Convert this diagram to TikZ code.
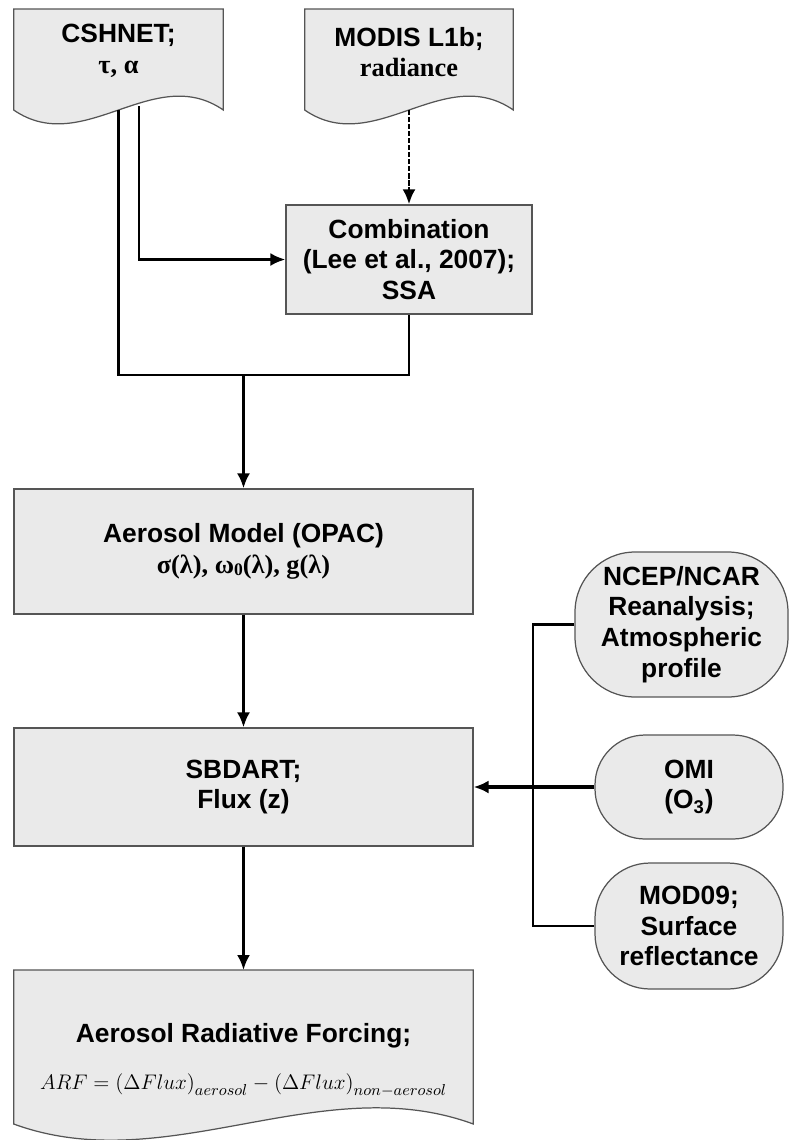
\documentclass[tikz,border=0pt]{standalone}
\usepackage{fontspec}
\setmainfont{Liberation Sans}
\newfontfamily\timesbf{Liberation Serif}
\usepackage{tikz}
\usetikzlibrary{arrows.meta,positioning,calc,backgrounds}
\definecolor{boxgray}{RGB}{234,234,234}
\definecolor{edgegray}{RGB}{85,85,85}
\newcommand{\boxfont}{\fontsize{15}{17.5}\selectfont}
\tikzset{
	procbox/.style={rectangle, draw=edgegray, fill=boxgray, line width=0.7pt,
		align=center, font=\bfseries\boxfont, inner sep=0pt},
	srcpill/.style={procbox, minimum width=3.76cm},
	doctext/.style={align=center, font=\bfseries\boxfont, inner sep=0pt},
	docline/.style={draw=edgegray, fill=boxgray, line width=0.7pt},
	flowline/.style={line width=1.6pt},
	flowarr/.style={-{Latex[length=3mm,width=2.6mm]}, line width=1.6pt}
}
\newcommand{\docshape}[4]{%
	\begin{scope}[on background layer]
		\draw[docline] (#1.west |- 0,#2) -- (#1.east |- 0,#2) -- (#1.east |- 0,#3)
			.. controls ($(#1.east |- 0,#3)!0.333!(#1.west |- 0,#3)+(0,-#4)$)
			and ($(#1.east |- 0,#3)!0.667!(#1.west |- 0,#3)+(0,#4)$)
			.. (#1.west |- 0,#3) -- cycle;
	\end{scope}}

\begin{document}
\begin{tikzpicture}[x=0.02cm, y=-0.02cm]
	\useasboundingbox (0,0) rectangle (790,1140);
	\node[doctext, minimum width=4.18cm] (cshnet) at (118.5,51) {CSHNET;\\{\timesbf τ, α}};
	\node[doctext, minimum width=4.16cm] (modis) at (409,52) {MODIS L1b;\\{\timesbf radiance}};
	\docshape{cshnet}{9}{110}{48}
	\docshape{modis}{9}{110}{48}
	\node[procbox, minimum width=4.92cm, minimum height=2.18cm] (combo) at (409,259.5)
		{Combination\\(Lee et al., 2007);\\SSA};
	\node[procbox, minimum width=9.18cm, minimum height=2.5cm] (aerosol) at (243.5,551.5)
		{Aerosol Model (OPAC)\\{\timesbf σ(λ), ω\raisebox{-0.15ex}{\fontsize{10}{10}\selectfont 0}(λ), g(λ)}};
	\node[procbox, minimum width=9.18cm, minimum height=2.36cm] (sbdart) at (243.5,787)
		{SBDART;\\Flux (z)};
	\node[doctext, minimum width=9.18cm] (arf) at (243.5,1060)
		{Aerosol Radiative Forcing;\\[9pt]
		{\mdseries\fontsize{13}{15}\selectfont $ARF=\bigl(\Delta Flux\bigr)_{aerosol}-\bigl(\Delta Flux\bigr)_{non-aerosol}$}};
	\docshape{arf}{970}{1124}{56}
	\node[procbox, minimum width=4.26cm, minimum height=2.9cm, rounded corners=1.2cm] (ncep) at (681.5,624.5)
		{NCEP/NCAR\\Reanalysis;\\Atmospheric\\profile};
	\node[srcpill, minimum height=2.08cm, rounded corners=1cm] (omi) at (689,787)
		{OMI\\(O\textsubscript{3})};
	\node[srcpill, minimum height=2.52cm, rounded corners=1.1cm] (mod09) at (689,926)
		{MOD09;\\Surface\\reflectance};
	\coordinate (cshnetfoot) at (cshnet |- 0,110);
	\coordinate (cshnetfoot2) at (139,106);
	\coordinate (modisfoot) at (modis |- 0,110);
	\coordinate (merge) at (aerosol.north |- 0,375);
	\coordinate (arftop) at (arf |- 0,970);
	\coordinate (bus) at (533,787);
	\draw[flowarr, dash pattern=on 3pt off 1pt] (modisfoot) -- (modisfoot |- combo.north);
	\draw[flowarr] (cshnetfoot2) |- (combo.west);
	\draw[flowline] (cshnetfoot) |- (merge) -| (combo.south);
	\draw[flowarr] (merge) -- (aerosol.north);
	\draw[flowarr] (aerosol) -- (sbdart);
	\draw[flowarr] (sbdart) -- (arftop);
	\draw[flowline] (ncep.west) -| (bus) |- (mod09.west);
	\draw[flowarr, line width=2.2pt] (omi.west) -- (sbdart.east);
\end{tikzpicture}
\end{document}
